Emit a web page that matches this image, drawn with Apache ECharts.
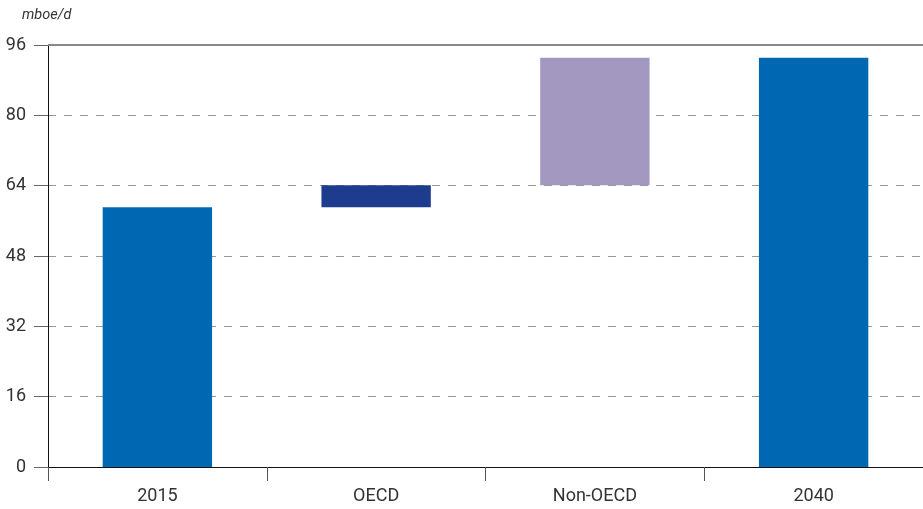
<!DOCTYPE html>
<html><head><meta charset="utf-8">
<script src="https://cdn.jsdelivr.net/npm/echarts@6/dist/echarts.min.js"></script>
<style>html,body{margin:0;padding:0;background:#fff}#c{width:923px;height:509px}</style>
</head><body><div id="c"></div>
<script>
var categories = ['2015', 'OECD', 'Non-OECD', '2040'];
var startValue = 59.1;
var changes = [5.0, 29.0];
var endValue = 93.1;
var yTicks = [0, 16, 32, 48, 64, 80, 96];
var unitLabel = 'mboe/d';
var colors = ['#0068b3', '#1e3c8e', '#a398c0', '#0068b3'];

var base = ['-', startValue, startValue + changes[0], '-'];
var heights = [startValue, changes[0], changes[1], endValue];

var chart = echarts.init(document.getElementById('c'), null, {renderer: 'canvas'});
var font = 'Roboto, "DejaVu Sans", sans-serif';
chart.setOption({
  animation: false,
  grid: {left: 48, right: 0, top: 45, bottom: 42, containLabel: false},
  graphic: [{type: 'text', left: 22, top: 8, style: {text: unitLabel, font: 'italic 14.5px ' + font, fill: '#333'}}],
  xAxis: {
    type: 'category', data: categories,
    axisLine: {lineStyle: {color: '#111', width: 1}},
    axisTick: {show: true, length: 14, lineStyle: {color: '#555'}, alignWithLabel: false},
    axisLabel: {color: '#333', fontSize: 18, fontFamily: font, margin: 20},
    splitLine: {show: false}
  },
  yAxis: {
    type: 'value', min: yTicks[0], max: yTicks[yTicks.length - 1], interval: 16,
    axisLine: {show: true, lineStyle: {color: '#111', width: 1}},
    axisTick: {show: true, length: 14, lineStyle: {color: '#666'}},
    axisLabel: {color: '#333', fontSize: 18, fontFamily: font, margin: 22},
    splitLine: {show: true, lineStyle: {color: '#999', type: [8, 8], width: 1}}
  },
  series: [
    {type: 'bar', stack: 'w', data: base, itemStyle: {color: 'transparent'}, barWidth: '50%', silent: true},
    {type: 'bar', stack: 'w', data: heights.map(function (v, i) { return {value: v, itemStyle: {color: colors[i]}}; }), barWidth: '50%',
     markLine: {silent: true, symbol: 'none', label: {show: false}, lineStyle: {color: '#888', type: 'solid', width: 2}, data: [{yAxis: yTicks[yTicks.length - 1]}]}}
  ]
});
</script></body></html>
